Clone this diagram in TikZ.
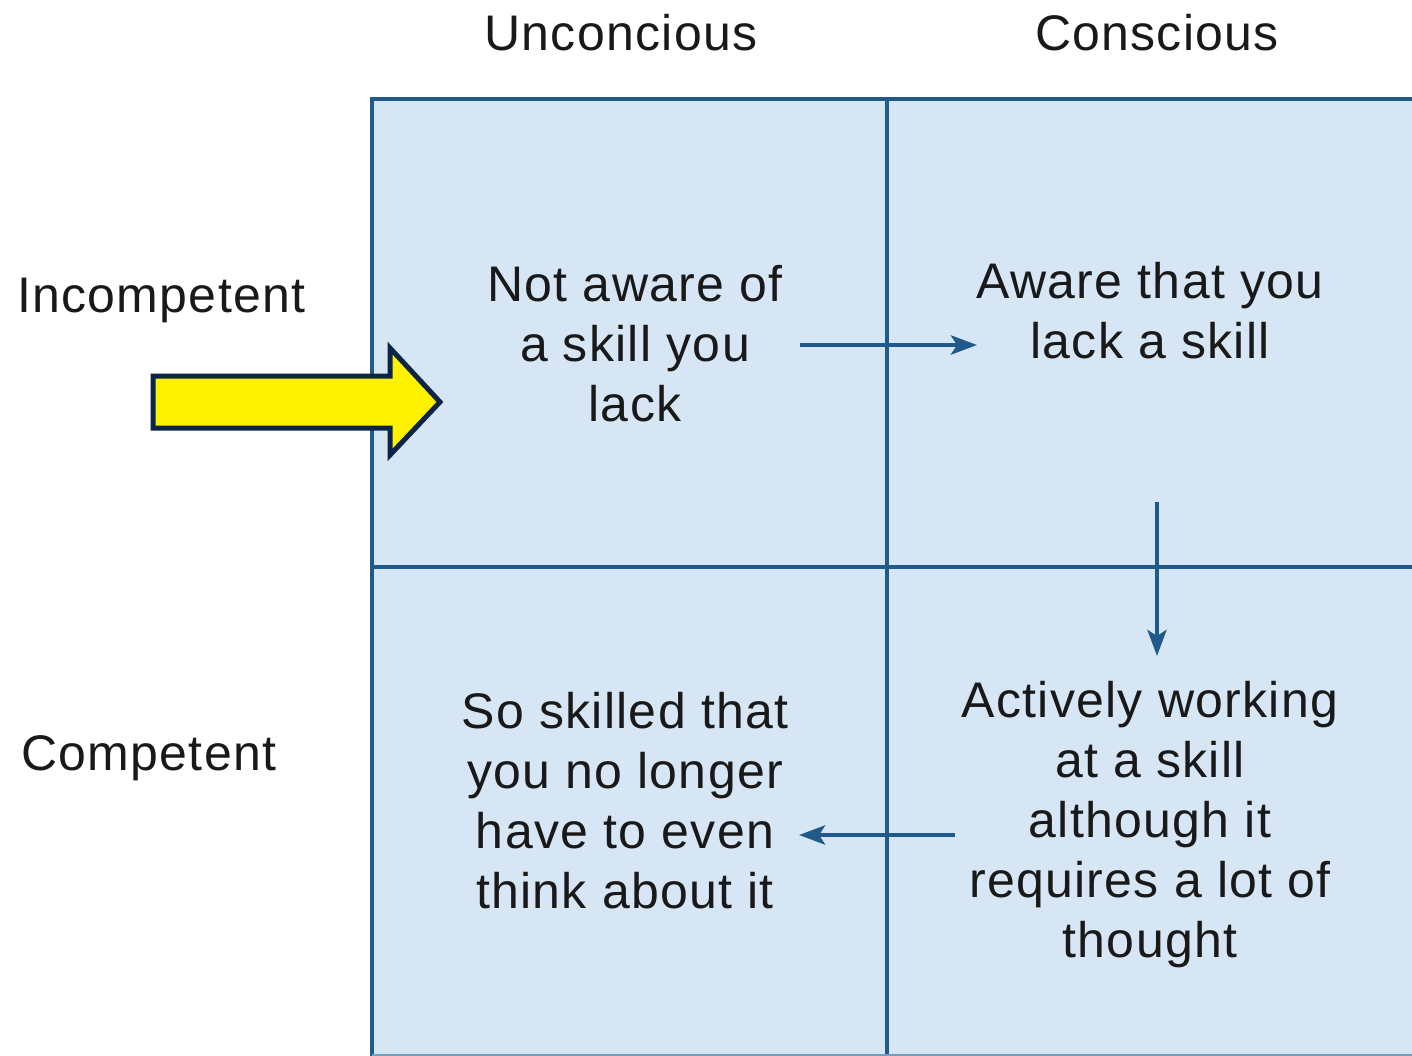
\documentclass[tikz,border=0pt]{standalone}
\usepackage{fontspec}
\setmainfont{Liberation Sans}[LetterSpace=2.6]
\usetikzlibrary{arrows.meta}
\definecolor{cellfill}{HTML}{D6E6F4}
\definecolor{gridline}{HTML}{1F5A8A}
\definecolor{navy}{HTML}{0B2447}
\tikzset{
  lbl/.style={inner sep=0pt, font=\fontsize{50}{60}\selectfont, text=black!90},
  cell/.style={inner sep=0pt, align=center, font=\fontsize{50}{60}\selectfont, text=black!90},
  flow/.style={draw=gridline, line width=4.5pt, -{Stealth[length=26pt,width=19pt,inset=6pt]}},
}
\begin{document}
\begin{tikzpicture}[x=1pt,y=-1pt]
\clip (0,0) rectangle (1412,1056);
\fill[white] (0,0) rectangle (1412,1056);
% grid
\fill[cellfill] (372,99) rectangle (1430,1070);
\draw[gridline, line width=4pt] (372,1070) -- (372,99) -- (1430,99);
\draw[gridline, line width=4pt] (887,99) -- (887,1070);
\draw[gridline, line width=4pt] (372,567) -- (1430,567);
\draw[gridline!60, line width=2pt] (372,1055) -- (1430,1055);
% headers
\node[lbl] (hU) at (621,33) {Unconcious};
\node[lbl] (hC) at (1157,33) {Conscious};
\node[lbl, anchor=west] (hI) at (17,300) {Incompetent};
\node[lbl, anchor=west] (hCo) at (21,758) {Competent};
% cells
\node[cell] (tl) at (635,344) {Not aware of\\a skill you\\lack};
\node[cell] (tr) at (1150,311) {Aware that you\\lack a skill};
\node[cell] (bl) at (625,801) {So skilled that\\you no longer\\have to even\\think about it};
\node[cell] (br) at (1150,825) {Actively working\\at a skill\\although it\\requires a lot of\\thought};
% flow arrows
\coordinate (a1s) at (800,345);
\coordinate (a1e) at (977,345);
\coordinate (a2s) at (1157,502);
\coordinate (a2e) at (1157,656);
\coordinate (a3s) at (955,835);
\coordinate (a3e) at (799,835);
\draw[flow] (a1s) -- (a1e);
\draw[flow] (a2s) -- (a2e);
\draw[flow] (a3s) -- (a3e);
% yellow arrow
\draw[fill=yellow, draw=navy, line width=5pt, line join=miter]
  (153,376) -- (390,376) -- (390,348) -- (440,402) -- (390,455) -- (390,428) -- (153,428) -- cycle;
\end{tikzpicture}
\end{document}
